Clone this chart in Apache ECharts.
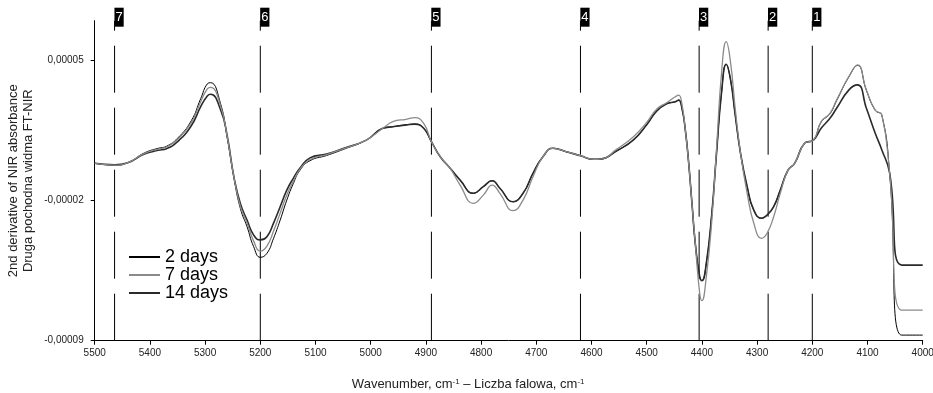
<!DOCTYPE html>
<html>
<head>
<meta charset="utf-8">
<script src="https://cdn.jsdelivr.net/npm/echarts@6/dist/echarts.min.js"></script>
<style>
html,body{margin:0;padding:0;background:#fff;}
#chart{width:933px;height:393px;}
</style>
</head>
<body>
<div id="chart"></div>
<script>
// Values are in units of 1e-6 (second-derivative absorbance)
const UNIT = 1e-6;
const wavenumbers = [5500,5464,5440,5410,5385,5370,5350,5325,5308,5296,5290,5272,5260,5248,5236,5224,5212,5200,5188,5176,5164,5152,5140,5128,5110,5080,5050,5008,4978,4960,4936,4920,4904,4890,4874,4856,4838,4814,4796,4780,4766,4742,4724,4706,4688,4670,4646,4620,4596,4584,4554,4524,4500,4482,4464,4448,4442,4436,4430,4424,4418,4412,4404,4400,4392,4382,4374,4364,4356,4348,4340,4330,4318,4306,4292,4282,4270,4258,4244,4232,4214,4198,4184,4168,4156,4134,4118,4102,4086,4074,4060,4038,4000];

const days2 = [-1.3,-2.3,-1.0,3.9,6.2,7.2,11.2,20.0,31.0,38.4,39.0,28.5,11.5,-8.2,-24.0,-33.0,-43.0,-48.3,-46.3,-38.8,-29.7,-19.7,-11.3,-4.7,0.0,2.6,5.6,10.3,16.2,17.0,17.9,18.3,16.2,9.5,2.0,-3.8,-9.7,-16.3,-13.0,-10.0,-13.8,-20.5,-16.3,-6.3,2.0,6.2,4.5,2.5,0.7,0.8,5.0,10.4,18.0,24.8,28.4,29.5,30.3,26.0,15.3,-1.0,-21.3,-41.3,-58.0,-60.0,-51.3,-26.3,2.0,35.3,48.2,40.3,23.7,3.7,-13.0,-24.7,-28.8,-27.2,-23.0,-14.7,-4.7,-1.3,8.7,10.3,19.3,23.5,30.0,41.8,47.6,35.2,25.2,22.7,-6.0,-87.2,-87.2];

const days7 = [-1.3,-2.2,-1.0,3.7,5.8,6.8,10.6,19.0,29.5,35.9,36.7,27.5,12.0,-8.0,-23.0,-31.2,-40.2,-45.2,-42.7,-35.2,-26.2,-17.2,-10.2,-4.2,0.6,3.0,5.9,10.3,16.2,19.5,20.7,21.5,18.7,9.5,2.0,-3.8,-12.2,-21.3,-17.2,-12.2,-16.3,-25.0,-19.7,-8.0,2.0,6.2,4.5,2.5,0.7,0.8,5.8,12.0,19.2,25.8,29.0,32.0,32.8,28.0,15.3,-1.0,-21.3,-41.3,-66.3,-70.0,-58.0,-29.7,3.7,45.3,59.5,48.9,27.0,3.7,-16.3,-31.3,-38.8,-36.3,-28.0,-16.3,-4.7,-1.3,8.7,10.3,19.5,23.7,30.3,42.0,47.9,35.3,25.3,22.9,-6.0,-74.7,-74.7];

const days14 = [-1.3,-2.0,-1.0,3.3,5.2,6.0,9.5,17.5,27.0,32.4,33.2,25.5,12.5,-7.8,-21.5,-29.7,-37.2,-39.6,-38.0,-31.2,-23.0,-14.7,-8.7,-3.7,1.4,3.3,6.1,10.3,16.2,17.0,17.9,18.3,16.2,9.5,2.0,-3.8,-9.7,-16.3,-13.0,-10.0,-13.8,-20.5,-16.3,-6.3,2.0,6.2,4.5,2.5,0.7,0.8,5.0,10.4,18.0,24.8,28.4,29.5,30.3,26.0,15.3,-1.0,-21.3,-41.3,-58.0,-60.0,-51.3,-26.3,2.0,35.3,48.2,40.3,23.7,3.7,-13.0,-24.7,-28.8,-27.2,-23.0,-14.7,-4.7,-1.3,8.7,10.3,16.2,21.2,26.2,35.3,37.9,26.2,13.7,5.4,-6.0,-52.2,-52.2];

const seriesNames = ['2 days', '7 days', '14 days'];
const markerWavenumbers = [4200, 4280, 4405, 4620, 4890, 5200, 5464];
const markerLabels = ['1', '2', '3', '4', '5', '6', '7'];
const yMin = -0.00009, yMax = 0.00007;
const yTickValues = [-0.00009, -0.00002, 0.00005];

const FONT = '"Liberation Sans", Arial, sans-serif';
const toPairs = arr => wavenumbers.map((w, i) => [w, arr[i] * UNIT]);

const chart = echarts.init(document.getElementById('chart'), null, {renderer: 'canvas'});

const styles = [
  {color: '#000000', width: 1},
  {color: '#8a8a8a', width: 1.3},
  {color: '#2a2a2a', width: 1.6}
];
const allData = [days2, days7, days14];

const series = seriesNames.map((name, i) => ({
  name,
  type: 'line',
  data: toPairs(allData[i]),
  symbol: 'none',
  smooth: 0.5,
  animation: false,
  lineStyle: {color: styles[i].color, width: styles[i].width},
  itemStyle: {color: styles[i].color},
  z: i === 1 ? 3 : 2
}));

// numbered boxes at the top of each marker line
series[0].markLine = {
  silent: true,
  symbol: ['none', 'none'],
  animation: false,
  lineStyle: {color: 'rgba(0,0,0,0)', width: 1, type: 'solid'},
  label: {
    show: true,
    position: 'end',
    distance: 0,
    offset: [4.5, 6],
    formatter: p => p.name,
    color: '#fff',
    backgroundColor: '#000',
    fontFamily: FONT,
    fontSize: 13,
    lineHeight: 16,
    padding: [2, 1, 1, 1]
  },
  data: markerWavenumbers.map((w, i) => ({xAxis: w, name: markerLabels[i]}))
};

// dashed vertical marker lines (each drawn bottom -> top)
const markerData = [];
markerWavenumbers.forEach(w => {
  markerData.push([w, yMin]);
  markerData.push([w, yMax]);
  markerData.push('-');
});
series.push({
  name: 'markers',
  type: 'line',
  data: markerData,
  symbol: 'none',
  connectNulls: false,
  silent: true,
  animation: false,
  z: 1,
  lineStyle: {color: '#000', width: 1, type: [47, 15]}
});

chart.setOption({
  animation: false,
  backgroundColor: '#fff',
  textStyle: {fontFamily: FONT},
  grid: {left: 94.7, right: 10.3, top: 20.7, bottom: 52.3, containLabel: false, outerBoundsMode: 'none'},
  legend: {
    orient: 'vertical',
    left: 128,
    top: 248,
    itemWidth: 31,
    itemHeight: 12,
    itemGap: 0,
    padding: 0,
    data: seriesNames,
    itemStyle: {opacity: 0},
    textStyle: {fontFamily: FONT, fontSize: 18, color: '#000', lineHeight: 13.7, padding: [0, 0, 0, 0]}
  },
  xAxis: {
    type: 'value',
    min: 4000,
    max: 5500,
    interval: 100,
    inverse: true,
    splitLine: {show: false},
    axisLine: {show: true, onZero: false, lineStyle: {color: '#000', width: 1}},
    axisTick: {show: true, length: 4, lineStyle: {color: '#000'}},
    axisLabel: {fontFamily: FONT, fontSize: 10, color: '#222', margin: 8, formatter: v => String(v)},
    name: 'Wavenumber, cm{sup|-1} – Liczba falowa, cm{sup|-1}',
    nameLocation: 'middle',
    nameGap: 37,
    nameMoveOverlap: false,
    nameTextStyle: {
      fontFamily: FONT, fontSize: 13, color: '#222', lineHeight: 14,
      padding: [0, 81, 0, 0],
      rich: {sup: {fontFamily: FONT, fontSize: 8, lineHeight: 8, verticalAlign: 'top', color: '#222'}}
    }
  },
  yAxis: {
    type: 'value',
    min: yMin,
    max: yMax,
    splitLine: {show: false},
    axisLine: {show: true, lineStyle: {color: '#000', width: 1}},
    axisTick: {show: true, length: 4, customValues: yTickValues, lineStyle: {color: '#000'}},
    axisLabel: {
      customValues: yTickValues,
      fontFamily: FONT, fontSize: 10, color: '#222', margin: 11,
      formatter: v => v.toFixed(5).replace('.', ',')
    },
    name: '2nd derivative of NIR absorbance\nDruga pochodna widma FT-NIR',
    nameLocation: 'middle',
    nameRotate: 90,
    nameGap: 59,
    nameMoveOverlap: false,
    nameTextStyle: {fontFamily: FONT, fontSize: 13, color: '#222', lineHeight: 15}
  },
  series
});
</script>
</body>
</html>
